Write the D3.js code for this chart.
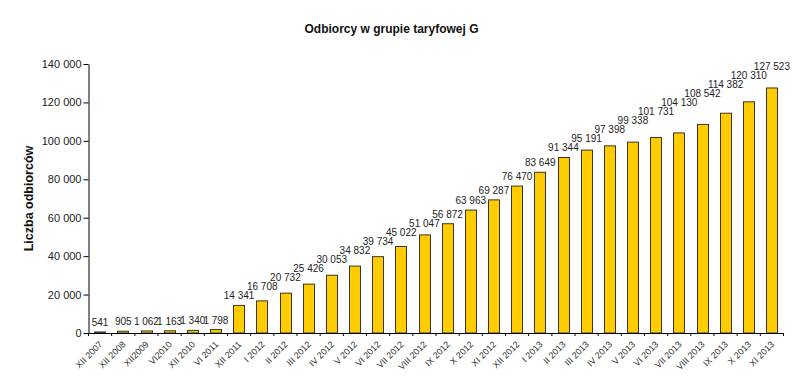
<!DOCTYPE html>
<html>
<head>
<meta charset="utf-8">
<script src="https://cdn.jsdelivr.net/npm/d3@7"></script>
<style>
  body { margin: 0; background: #fff; }
  svg { font-family: Arial, "Liberation Sans", sans-serif; }
</style>
</head>
<body>
<svg class="chart"></svg>
<script>
// categories (months) and number of customers
var categories = ["XII 2007", "XII 2008", "XII2009", "VI2010", "XII 2010", "VI 2011", "XII 2011",
   "I 2012", "II 2012", "III 2012", "IV 2012", "V 2012", "VI 2012", "VII 2012", "VIII 2012",
   "IX 2012", "X 2012", "XI 2012", "XII 2012", "I 2013", "II 2013", "III 2013", "IV 2013",
   "V 2013", "VI 2013", "VII 2013", "VIII 2013", "IX 2013", "X 2013", "XI 2013"];
var values = [541, 905, 1062, 1163, 1340, 1798, 14341,
   16708, 20732, 25426, 30053, 34832, 39734, 45022, 51047,
   56872, 63963, 69287, 76470, 83649, 91344, 95191, 97398,
   99338, 101731, 104130, 108542, 114382, 120310, 127523];
var yTickValues = [0, 20000, 40000, 60000, 80000, 100000, 120000, 140000];

var chartTitle = "Odbiorcy w grupie taryfowej G";
var yTitle = "Liczba odbiorców";

var width = 800, height = 377;
var plot = {left: 88.5, right: 783.5, top: 64, bottom: 333};

var svg = d3.select(".chart")
   .attr("width", width)
   .attr("height", height);

// polish number format: "140 000"
var fmt = d3.formatLocale({decimal: ",", thousands: " ", grouping: [3], currency: ["", ""]}).format(",d");

var xScale = d3.scaleBand()
   .domain(categories)
   .range([plot.left, plot.right])
   .paddingInner(0.5)
   .paddingOuter(0.25);

var yScale = d3.scaleLinear()
   .domain([0, 140000])
   .range([plot.bottom, plot.top]);

// title
svg.append("text")
   .attr("x", 391.5)
   .attr("y", 33)
   .attr("text-anchor", "middle")
   .style("font-size", "12px")
   .style("font-weight", "bold")
   .style("fill", "#111")
   .text(chartTitle);

// y axis title
svg.append("text")
   .attr("transform", "translate(33,198.5) rotate(-90)")
   .attr("text-anchor", "middle")
   .style("font-size", "12.5px")
   .style("font-weight", "bold")
   .style("fill", "#111")
   .text(yTitle);

// bars
svg.append("g")
   .selectAll("rect")
   .data(values)
   .enter().append("rect")
   .attr("x", function(d, i) { return Math.round(xScale(categories[i])) + 0.5; })
   .attr("y", function(d) { return yScale(d); })
   .attr("width", Math.round(xScale.bandwidth()) - 1)
   .attr("height", function(d) { return plot.bottom - yScale(d); })
   .style("fill", "#FFCC00")
   .style("stroke", "#3a3326")
   .style("stroke-width", 1);

// y axis
var yAxisG = svg.append("g")
   .attr("transform", "translate(" + plot.left + ",0)")
   .call(d3.axisLeft(yScale).tickValues(yTickValues).tickSize(5).tickSizeOuter(0).tickPadding(2).tickFormat(fmt));
yAxisG.selectAll("text").style("font-size", "11px").style("fill", "#222").style("font-family", "Arial, 'Liberation Sans', sans-serif");
yAxisG.selectAll("line, path").style("stroke", "#000");

// x axis (labels under category centres, ticks on category boundaries)
var xAxisG = svg.append("g")
   .attr("transform", "translate(0," + plot.bottom + ")")
   .call(d3.axisBottom(xScale).tickSize(0).tickSizeOuter(0));
xAxisG.select("path").style("stroke", "#000");
xAxisG.selectAll("text")
   .attr("x", 0).attr("y", 0).attr("dy", 0)
   .attr("text-anchor", "end")
   .attr("transform", "translate(3,12) rotate(-45)")
   .style("font-size", "9px")
   .style("fill", "#333")
   .style("font-family", "Arial, 'Liberation Sans', sans-serif");

var step = xScale.step();
xAxisG.selectAll(".bound")
   .data(d3.range(categories.length + 1))
   .enter().append("line")
   .attr("class", "bound")
   .attr("x1", function(k) { return plot.left + k * step; })
   .attr("x2", function(k) { return plot.left + k * step; })
   .attr("y1", 0)
   .attr("y2", 3)
   .style("stroke", "#000");

// value labels; stacked upwards where wide neighbours would collide
var labels = svg.append("g")
   .selectAll("text")
   .data(values)
   .enter().append("text")
   .attr("x", function(d, i) { return xScale(categories[i]) + xScale.bandwidth() / 2; })
   .attr("text-anchor", "middle")
   .style("font-size", "10px")
   .style("fill", "#222")
   .text(function(d) { return fmt(d); });

var prevY = null, prevW = 0;
labels.each(function(d, i) {
   var w = this.getComputedTextLength();
   var y = yScale(d) - 6;
   var overlap = (w + prevW) / 2 - step;
   if (prevY !== null && overlap > 4) y = Math.min(y, prevY - 9);
   d3.select(this).attr("y", y);
   prevY = y; prevW = w;
});
</script>
</body>
</html>
